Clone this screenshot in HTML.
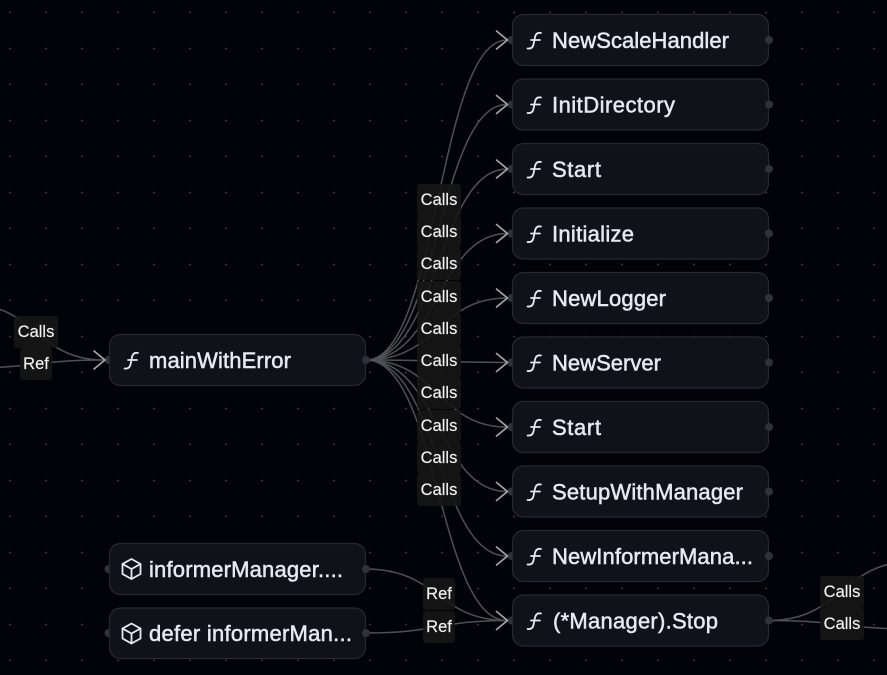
<!DOCTYPE html>
<html><head><meta charset="utf-8"><style>
html,body{margin:0;padding:0;background:#020308;width:887px;height:675px;overflow:hidden}
svg{display:block}
text{font-family:"Liberation Sans",sans-serif}
.e{fill:none;stroke:#4f5154;stroke-width:1.5}
.a{fill:none;stroke:#a3a5a8;stroke-width:1.7;stroke-linejoin:round;stroke-linecap:round}
.h{fill:#2e333b}
.n{fill:#0f1219;stroke:#252a31;stroke-width:1.2}
.t{fill:#e4e9f2;font-size:22px;stroke:#e4e9f2;stroke-width:.5}
.ic{fill:none;stroke:#e4e9f2;stroke-width:1.8;stroke-linecap:round;stroke-linejoin:round}
.l{fill:#161616;fill-opacity:.9}
.lt{fill:#f2f2f2;font-size:16.5px;text-anchor:middle;stroke:#f2f2f2;stroke-width:.15}
</style></head><body>
<svg width="887" height="675" viewBox="0 0 887 675" xmlns="http://www.w3.org/2000/svg">
<defs>
<pattern id="dots" x="0" y="0" width="36" height="36" patternUnits="userSpaceOnUse" patternTransform="translate(-8 -5.5)">
<circle cx="18" cy="18" r="0.9" fill="#41454c"/>
</pattern>
<path id="f" class="ic" d="M14 -7.5C10.5 -8.2 8.7 -6.5 8 -3.5L6.5 4C5.8 7 4 8.5 0.5 8M4 -0.5H13"/>
<g id="cube" class="ic"><path d="M0 -10L9 -5V5L0 10L-9 5V-5Z"/><path d="M-9 -5L0 0L9 -5M0 0V10"/></g>
<path id="ar" class="a" d="M-11 -9L0 0L-11 9"/>
</defs>
<rect width="887" height="675" fill="#020308"/>
<rect width="887" height="675" fill="url(#dots)"/>

<!-- edges -->
<path class="e" d="M366 360C438 360 438 40 507 40"/>
<path class="e" d="M366 360C438 360 438 104.5 507 104.5"/>
<path class="e" d="M366 360C438 360 438 169 507 169"/>
<path class="e" d="M366 360C438 360 438 233.5 507 233.5"/>
<path class="e" d="M366 360C438 360 438 298 507 298"/>
<path class="e" d="M366 360C438 360 438 362.5 507 362.5"/>
<path class="e" d="M366 360C438 360 438 427 507 427"/>
<path class="e" d="M366 360C438 360 438 491.5 507 491.5"/>
<path class="e" d="M366 360C438 360 438 556 507 556"/>
<path class="e" d="M366 360C438 360 438 620.5 507 620.5"/>
<path class="e" d="M366 569C438 569 438 620.5 507 620.5"/>
<path class="e" d="M366 633C438 633 438 620.5 507 620.5"/>
<path class="e" d="M-33 304C36 304 36 360 104 360"/>
<path class="e" d="M-33 368C36 368 36 360 104 360"/>
<path class="e" d="M769 620.5C842 620.5 842 561 915 561"/>
<path class="e" d="M769 620.5C842 620.5 842 629 915 629"/>

<!-- left handles -->
<circle class="h" cx="511.5" cy="40" r="4"/><circle class="h" cx="511.5" cy="104.5" r="4"/><circle class="h" cx="511.5" cy="169" r="4"/><circle class="h" cx="511.5" cy="233.5" r="4"/><circle class="h" cx="511.5" cy="298" r="4"/><circle class="h" cx="511.5" cy="362.5" r="4"/><circle class="h" cx="511.5" cy="427" r="4"/><circle class="h" cx="511.5" cy="491.5" r="4"/><circle class="h" cx="511.5" cy="556" r="4"/><circle class="h" cx="511.5" cy="620.5" r="4"/>
<circle class="h" cx="108.5" cy="360" r="4"/><circle class="h" cx="108.5" cy="569" r="4"/><circle class="h" cx="108.5" cy="633" r="4"/>

<!-- arrowheads -->
<use href="#ar" x="507.5" y="40"/><use href="#ar" x="507.5" y="104.5"/><use href="#ar" x="507.5" y="169"/><use href="#ar" x="507.5" y="233.5"/><use href="#ar" x="507.5" y="298"/><use href="#ar" x="507.5" y="362.5"/><use href="#ar" x="507.5" y="427"/><use href="#ar" x="507.5" y="491.5"/><use href="#ar" x="507.5" y="556"/><use href="#ar" x="507.5" y="620.5"/>
<use href="#ar" x="105" y="360"/>

<!-- nodes -->
<rect class="n" x="512.5" y="14.5" width="256" height="51" rx="11"/>
<rect class="n" x="512.5" y="79" width="256" height="51" rx="11"/>
<rect class="n" x="512.5" y="143.5" width="256" height="51" rx="11"/>
<rect class="n" x="512.5" y="208" width="256" height="51" rx="11"/>
<rect class="n" x="512.5" y="272.5" width="256" height="51" rx="11"/>
<rect class="n" x="512.5" y="337" width="256" height="51" rx="11"/>
<rect class="n" x="512.5" y="401.5" width="256" height="51" rx="11"/>
<rect class="n" x="512.5" y="466" width="256" height="51" rx="11"/>
<rect class="n" x="512.5" y="530.5" width="256" height="51" rx="11"/>
<rect class="n" x="512.5" y="595" width="256" height="51" rx="11"/>
<rect class="n" x="109.5" y="334.5" width="256" height="51" rx="11"/>
<rect class="n" x="109.5" y="543.5" width="256" height="51" rx="11"/>
<rect class="n" x="109.5" y="608" width="256" height="50.5" rx="11"/>

<!-- right handles -->
<circle class="h" cx="769" cy="40" r="4"/><circle class="h" cx="769" cy="104.5" r="4"/><circle class="h" cx="769" cy="169" r="4"/><circle class="h" cx="769" cy="233.5" r="4"/><circle class="h" cx="769" cy="298" r="4"/><circle class="h" cx="769" cy="362.5" r="4"/><circle class="h" cx="769" cy="427" r="4"/><circle class="h" cx="769" cy="491.5" r="4"/><circle class="h" cx="769" cy="556" r="4"/><circle class="h" cx="769" cy="620.5" r="4"/>
<circle class="h" cx="366" cy="360" r="4"/><circle class="h" cx="366" cy="569" r="4"/><circle class="h" cx="366" cy="633" r="4"/>

<!-- icons -->
<use href="#f" x="527" y="40.5"/><use href="#f" x="527" y="105"/><use href="#f" x="527" y="169.5"/><use href="#f" x="527" y="234"/><use href="#f" x="527" y="298.5"/><use href="#f" x="527" y="363"/><use href="#f" x="527" y="427.5"/><use href="#f" x="527" y="492"/><use href="#f" x="527" y="556.5"/><use href="#f" x="527" y="621"/>
<use href="#f" x="124" y="360.5"/>
<use href="#cube" x="131.5" y="569"/><use href="#cube" x="131.5" y="633.5"/>

<!-- node text -->
<text class="t" x="552" y="48" textLength="177">NewScaleHandler</text>
<text class="t" x="552" y="112.5" textLength="123">InitDirectory</text>
<text class="t" x="552" y="177" textLength="49">Start</text>
<text class="t" x="552" y="241.5" textLength="82">Initialize</text>
<text class="t" x="552" y="306" textLength="114">NewLogger</text>
<text class="t" x="552" y="370.5" textLength="109">NewServer</text>
<text class="t" x="552" y="435" textLength="49">Start</text>
<text class="t" x="552" y="499.5" textLength="191">SetupWithManager</text>
<text class="t" x="552" y="564" textLength="201">NewInformerMana...</text>
<text class="t" x="553" y="628.5" textLength="165">(*Manager).Stop</text>
<text class="t" x="149" y="368" textLength="142">mainWithError</text>
<text class="t" x="149" y="577" textLength="194">informerManager....</text>
<text class="t" x="149" y="641" textLength="203">defer informerMan...</text>

<!-- edge labels -->
<rect class="l" x="14" y="316" width="44" height="32" rx="3"/><text class="lt" x="36" y="337">Calls</text>
<rect class="l" x="20" y="348" width="32" height="32" rx="3"/><text class="lt" x="36" y="369">Ref</text>

<rect class="l" x="417" y="184" width="44" height="32" rx="3"/><text class="lt" x="439" y="205">Calls</text>
<rect class="l" x="417" y="216" width="44" height="32" rx="3"/><text class="lt" x="439" y="237">Calls</text>
<rect class="l" x="417" y="248" width="44" height="32" rx="3"/><text class="lt" x="439" y="269">Calls</text>
<rect class="l" x="417" y="281" width="44" height="32" rx="3"/><text class="lt" x="439" y="302">Calls</text>
<rect class="l" x="417" y="313" width="44" height="32" rx="3"/><text class="lt" x="439" y="334">Calls</text>
<rect class="l" x="417" y="345" width="44" height="32" rx="3"/><text class="lt" x="439" y="366">Calls</text>
<rect class="l" x="417" y="377" width="44" height="32" rx="3"/><text class="lt" x="439" y="398">Calls</text>
<rect class="l" x="417" y="410" width="44" height="32" rx="3"/><text class="lt" x="439" y="431">Calls</text>
<rect class="l" x="417" y="442" width="44" height="32" rx="3"/><text class="lt" x="439" y="463">Calls</text>
<rect class="l" x="417" y="474" width="44" height="32" rx="3"/><text class="lt" x="439" y="495">Calls</text>

<rect class="l" x="423" y="578" width="32" height="32" rx="3"/><text class="lt" x="439" y="599">Ref</text>
<rect class="l" x="423" y="611" width="32" height="32" rx="3"/><text class="lt" x="439" y="632">Ref</text>

<rect class="l" x="820" y="576" width="44" height="32" rx="3"/><text class="lt" x="842" y="597">Calls</text>
<rect class="l" x="820" y="608" width="44" height="32" rx="3"/><text class="lt" x="842" y="629">Calls</text>
</svg>
</body></html>
